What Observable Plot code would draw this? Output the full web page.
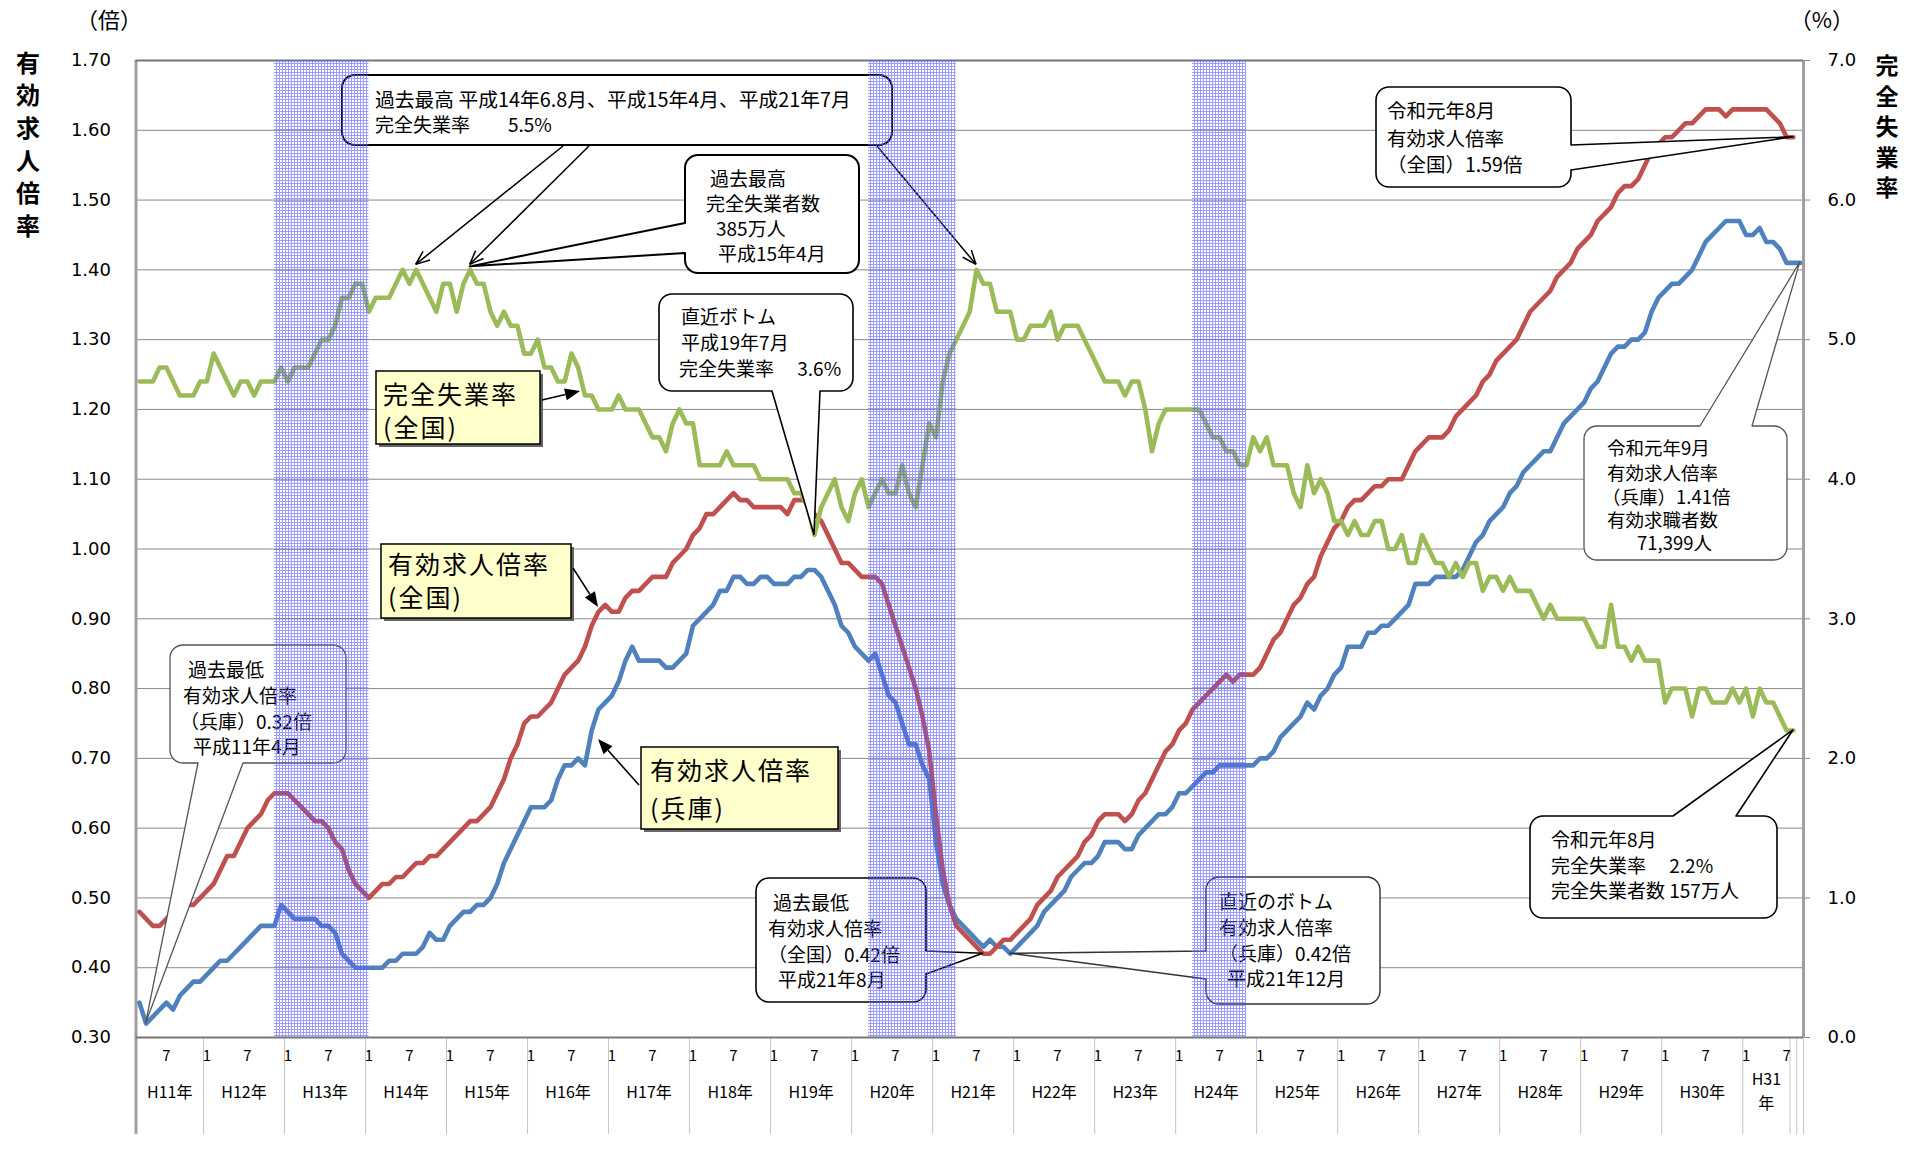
<!DOCTYPE html>
<html><head><meta charset="utf-8">
<script src="https://cdn.jsdelivr.net/npm/d3@7"></script>
<script src="https://cdn.jsdelivr.net/npm/@observablehq/plot@0.6"></script>
<style>
html,body{margin:0;padding:0;background:#fff;overflow:hidden;}
#chart svg{display:block;max-width:none!important;}
</style></head><body><div id="chart"></div>
<script>
// ---------------- DATA ----------------
// first month of the series: 平成11年(1999) 3月 ; one value per month
const startYear = 1999, startMonth = 3;

// 有効求人倍率（全国） Mar 1999 – Aug 2019
const jobRatioNational = [
  0.48,0.47,0.46,0.46,0.47,0.48,0.49,0.49,0.49,0.50,
  0.51,0.52,0.54,0.56,0.56,0.58,0.60,0.61,0.62,0.64,0.65,0.65,
  0.65,0.64,0.63,0.62,0.61,0.61,0.60,0.58,0.57,0.54,0.52,0.51,
  0.50,0.51,0.52,0.52,0.53,0.53,0.54,0.55,0.55,0.56,0.56,0.57,
  0.58,0.59,0.60,0.61,0.61,0.62,0.63,0.65,0.67,0.70,0.72,0.75,
  0.76,0.76,0.77,0.78,0.80,0.82,0.83,0.84,0.86,0.89,0.91,0.92,
  0.91,0.91,0.93,0.94,0.94,0.95,0.96,0.96,0.96,0.98,0.99,1.00,
  1.02,1.03,1.05,1.05,1.06,1.07,1.08,1.07,1.07,1.06,1.06,1.06,
  1.06,1.06,1.05,1.07,1.07,1.07,1.05,1.04,1.02,1.00,0.98,0.98,
  0.97,0.96,0.96,0.96,0.95,0.92,0.89,0.86,0.83,0.80,0.76,0.71,
  0.62,0.54,0.49,0.46,0.45,0.44,0.43,0.42,0.42,0.43,0.44,0.44,
  0.45,0.46,0.47,0.49,0.50,0.51,0.53,0.54,0.55,0.56,0.58,0.59,
  0.61,0.62,0.62,0.62,0.61,0.62,0.64,0.65,0.67,0.69,0.71,0.72,
  0.74,0.75,0.77,0.78,0.79,0.80,0.81,0.82,0.81,0.82,0.82,0.82,
  0.83,0.85,0.87,0.88,0.90,0.92,0.93,0.95,0.96,0.99,1.01,1.03,
  1.04,1.06,1.07,1.07,1.08,1.09,1.09,1.10,1.10,1.10,1.12,1.14,
  1.15,1.16,1.16,1.16,1.17,1.19,1.20,1.21,1.22,1.24,1.25,1.27,
  1.28,1.29,1.30,1.32,1.34,1.35,1.36,1.37,1.39,1.40,1.41,1.43,
  1.44,1.45,1.47,1.48,1.49,1.51,1.52,1.52,1.53,1.55,1.57,1.58,
  1.59,1.59,1.60,1.61,1.61,1.62,1.63,1.63,1.63,1.62,1.63,1.63,
  1.63,1.63,1.63,1.63,1.62,1.61,1.59,1.59
];

// 有効求人倍率（兵庫） Mar 1999 – Sep 2019
const jobRatioHyogo = [
  0.35,0.32,0.33,0.34,0.35,0.34,0.36,0.37,0.38,0.38,
  0.39,0.40,0.41,0.41,0.42,0.43,0.44,0.45,0.46,0.46,0.46,0.49,
  0.48,0.47,0.47,0.47,0.47,0.46,0.46,0.45,0.42,0.41,0.40,0.40,
  0.40,0.40,0.40,0.41,0.41,0.42,0.42,0.42,0.43,0.45,0.44,0.44,
  0.46,0.47,0.48,0.48,0.49,0.49,0.50,0.52,0.55,0.57,0.59,0.61,
  0.63,0.63,0.63,0.64,0.67,0.69,0.69,0.70,0.69,0.74,0.77,0.78,
  0.79,0.81,0.84,0.86,0.84,0.84,0.84,0.84,0.83,0.83,0.84,0.85,
  0.89,0.90,0.91,0.92,0.94,0.94,0.96,0.96,0.95,0.95,0.96,0.96,
  0.95,0.95,0.95,0.96,0.96,0.97,0.97,0.96,0.94,0.92,0.89,0.88,
  0.86,0.85,0.84,0.85,0.82,0.79,0.78,0.75,0.72,0.72,0.69,0.67,
  0.58,0.52,0.49,0.47,0.46,0.45,0.44,0.43,0.44,0.43,0.43,0.42,
  0.43,0.44,0.45,0.46,0.48,0.49,0.50,0.51,0.53,0.54,0.55,0.55,
  0.56,0.58,0.58,0.58,0.57,0.57,0.59,0.60,0.61,0.62,0.62,0.63,
  0.65,0.65,0.66,0.67,0.68,0.68,0.69,0.69,0.69,0.69,0.69,0.69,
  0.70,0.70,0.71,0.73,0.74,0.75,0.76,0.78,0.77,0.79,0.80,0.82,
  0.83,0.86,0.86,0.86,0.88,0.88,0.89,0.89,0.90,0.91,0.92,0.95,
  0.95,0.95,0.96,0.96,0.96,0.96,0.97,0.99,1.01,1.02,1.04,1.05,
  1.06,1.08,1.09,1.11,1.12,1.13,1.14,1.14,1.16,1.18,1.19,1.20,
  1.21,1.23,1.24,1.26,1.28,1.29,1.29,1.30,1.30,1.31,1.34,1.36,
  1.37,1.38,1.38,1.39,1.40,1.42,1.44,1.45,1.46,1.47,1.47,1.47,
  1.45,1.45,1.46,1.44,1.44,1.43,1.41,1.41,1.41
];

// 完全失業率（全国, %） Mar 1999 – Aug 2019
const unemploymentRate = [
  4.7,4.7,4.7,4.8,4.8,4.7,4.6,4.6,4.6,4.7,
  4.7,4.9,4.8,4.7,4.6,4.7,4.7,4.6,4.7,4.7,4.7,4.8,
  4.7,4.8,4.8,4.8,4.9,5.0,5.0,5.1,5.3,5.3,5.4,5.4,
  5.2,5.3,5.3,5.3,5.4,5.5,5.4,5.5,5.4,5.3,5.2,5.4,
  5.4,5.2,5.4,5.5,5.4,5.4,5.2,5.1,5.2,5.1,5.1,4.9,
  4.9,5.0,4.8,4.8,4.7,4.7,4.9,4.8,4.6,4.6,4.5,4.5,
  4.5,4.6,4.5,4.5,4.5,4.4,4.3,4.3,4.2,4.4,4.5,4.4,
  4.4,4.1,4.1,4.1,4.1,4.2,4.1,4.1,4.1,4.1,4.0,4.0,
  4.0,4.0,4.0,3.9,3.9,3.8,3.6,3.8,3.9,4.0,3.8,3.7,
  3.9,4.0,3.8,3.9,4.0,3.9,3.9,4.1,3.9,3.8,4.1,4.4,
  4.3,4.7,4.9,5.0,5.1,5.2,5.5,5.4,5.4,5.2,5.2,5.2,
  5.0,5.0,5.1,5.1,5.1,5.2,5.0,5.1,5.1,5.1,5.0,4.9,
  4.8,4.7,4.7,4.7,4.6,4.7,4.7,4.5,4.2,4.4,4.5,4.5,
  4.5,4.5,4.5,4.5,4.4,4.3,4.3,4.2,4.2,4.1,4.1,4.3,
  4.2,4.3,4.1,4.1,4.1,3.9,3.8,4.1,3.9,4.0,3.9,3.7,
  3.7,3.6,3.7,3.6,3.6,3.7,3.7,3.5,3.5,3.6,3.4,3.4,
  3.6,3.5,3.4,3.4,3.3,3.4,3.3,3.4,3.4,3.2,3.3,3.3,
  3.2,3.3,3.2,3.2,3.2,3.1,3.0,3.1,3.0,3.0,3.0,3.0,
  3.0,2.9,2.8,2.8,3.1,2.8,2.8,2.7,2.8,2.7,2.7,2.7,
  2.4,2.5,2.5,2.5,2.3,2.5,2.5,2.4,2.4,2.4,2.5,2.4,
  2.5,2.3,2.5,2.4,2.4,2.3,2.2,2.2
];

// 景気後退期（網掛け）
const recessions = [["2000-11","2002-01"],["2008-03","2009-04"],["2012-03","2012-11"]];

// axes
const leftTicks = [0.30,0.40,0.50,0.60,0.70,0.80,0.90,1.00,1.10,1.20,1.30,1.40,1.50,1.60,1.70];
const rightTicks = [0,1,2,3,4,5,6,7];
const monthTickLabels = [[1,"1"],[7,"7"]];
const yearLabels = ["H11年","H12年","H13年","H14年","H15年","H16年","H17年","H18年","H19年","H20年",
  "H21年","H22年","H23年","H24年","H25年","H26年","H27年","H28年","H29年","H30年","H31\n年"];

// annotation texts
const noteRecordUnemp = ["過去最高 平成14年6.8月、平成15年4月、平成21年7月", "完全失業率　　5.5%"];
const noteRecordJobless = ["過去最高", "完全失業者数", "385万人", "平成15年4月"];
const noteBottom2007 = ["直近ボトム", "平成19年7月", "完全失業率　 3.6%"];
const noteNational201908 = ["令和元年8月", "有効求人倍率", "（全国）1.59倍"];
const noteHyogo201909 = ["令和元年9月", "有効求人倍率", "（兵庫）1.41倍", "有効求職者数", "71,399人"];
const noteUnemp201908 = ["令和元年8月", "完全失業率　 2.2%", "完全失業者数 157万人"];
const noteHyogoLow1999 = ["過去最低", "有効求人倍率", "（兵庫）0.32倍", "平成11年4月"];
const noteNationalLow2009 = ["過去最低", "有効求人倍率", "（全国）0.42倍", "平成21年8月"];
const noteHyogoBottom2009 = ["直近のボトム", "有効求人倍率", "（兵庫）0.42倍", "平成21年12月"];
const seriesLabelUnemp = ["完全失業率", "(全国)"];
const seriesLabelNational = ["有効求人倍率", "(全国)"];
const seriesLabelHyogo = ["有効求人倍率", "(兵庫)"];

// ---------------- HELPERS ----------------
const monthIndex = s => { const [y, m] = s.split("-").map(Number); return (y - startYear) * 12 + (m - startMonth); };
const toLeft = u => 0.30 + u / 5;            // % on right axis -> left-axis units
const nMonths = 247;
const W = 1915, H = 1149;
const frame = {left: 135.5, right: 1803, top: 60, bottom: 1037};
const unitPx = (frame.bottom - frame.top) / 1.4;
const pxToY = p => 1.70 - (p - frame.top) / unitPx;
const tableBottom = pxToY(1134);

const red = "#C0504D", blue = "#4F81BD", green = "#9BBB59";
const jp = "'Noto Sans CJK JP','Noto Sans',sans-serif";

const rows = (arr, f = v => v) => arr.map((v, i) => ({i, v: f(v)}));
const national = rows(jobRatioNational), hyogo = rows(jobRatioHyogo), unemp = rows(unemploymentRate, toLeft);

const monthTicks = [];
for (let i = 0; i < nMonths; i++) {
  const m = ((startMonth - 1 + i) % 12) + 1;
  for (const [mm, lab] of monthTickLabels) if (m === mm) monthTicks.push({i, label: lab});
}
const yearCols = yearLabels.map((label, k) => {
  const a = k === 0 ? 0 : monthIndex(`${startYear + k}-01`);
  const b = k === yearLabels.length - 1 ? monthIndex(`${startYear + k}-08`) : monthIndex(`${startYear + k + 1}-01`);
  return {label, c: (a + b) / 2, a, b};
});
const separators = yearCols.slice(1).map(d => d.a).concat([yearCols[yearCols.length - 1].b, nMonths - 1, nMonths]);
const gridVals = leftTicks.slice(1, -1);

const lineOpts = {x: d => d.i + 0.5, y: "v", strokeWidth: 4.6, strokeLinejoin: "round", strokeLinecap: "round"};

const chart = Plot.plot({
  width: W, height: H,
  marginLeft: frame.left, marginRight: W - frame.right, marginTop: frame.top, marginBottom: H - frame.bottom,
  x: {domain: [0, nMonths], axis: null},
  y: {domain: [0.30, 1.70], axis: null},
  style: {fontFamily: jp, background: "white", color: "#000"},
  marks: [
    Plot.ruleY(gridVals, {stroke: "#8a8a8a", strokeWidth: 1}),
    Plot.ruleX(separators, {y1: 0.30, y2: tableBottom, stroke: "#c4c4c4", strokeWidth: 1}),
    Plot.ruleX([0], {y1: tableBottom, y2: 1.70, stroke: "#a0a0a0", strokeWidth: 3}),
    Plot.ruleX([nMonths], {y1: 0.30, y2: 1.70, stroke: "#a0a0a0", strokeWidth: 3}),
    Plot.ruleY([1.70], {stroke: "#777", strokeWidth: 2}),
    Plot.ruleY([0.30], {stroke: "#777", strokeWidth: 2}),
    Plot.line(hyogo, {...lineOpts, stroke: blue}),
    Plot.line(national, {...lineOpts, stroke: red}),
    Plot.line(unemp, {...lineOpts, stroke: green}),
    Plot.axisY(leftTicks, {anchor: "left", tickSize: 0, tickPadding: 25, tickFormat: d => d.toFixed(2),
      fontSize: 18, fontFamily: "DejaVu Sans", fill: "#000", label: null}),
    Plot.axisY(rightTicks.map(toLeft), {anchor: "right", tickSize: 6, tickPadding: 18, stroke: "#888",
      tickFormat: d => ((d - 0.30) * 5).toFixed(1), fontSize: 18, fontFamily: "DejaVu Sans", fill: "#000", label: null}),
    Plot.text(monthTicks, {x: d => d.i + 0.5, text: "label", frameAnchor: "bottom", dy: 23, fontSize: 15, fill: "#000"}),
    Plot.text(yearCols.slice(0, -1), {x: "c", text: "label", frameAnchor: "bottom", dy: 60, fontSize: 16, fill: "#000"}),
    Plot.text(yearCols.slice(-1), {x: "c", text: "label", frameAnchor: "bottom", dy: 71, lineHeight: 1.45, fontSize: 16, fill: "#000"})
  ]
});
document.getElementById("chart").appendChild(chart);

// ---------------- ANNOTATIONS (through the plot's scales) ----------------
const sx = chart.scale("x"), sy = chart.scale("y");
const X = v => sx.apply(v), Y = v => sy.apply(v);
const at = (i, v, dy = 0) => [X(i + 0.5), Y(v) + dy];
const svg = d3.select(chart);

const defs = svg.insert("defs", ":first-child");
const pat = defs.append("pattern").attr("id", "dots").attr("width", 3).attr("height", 3).attr("patternUnits", "userSpaceOnUse");
pat.append("rect").attr("width", 3).attr("height", 1).attr("fill", "#5a5aff");
pat.append("rect").attr("y", 1).attr("width", 1).attr("height", 2).attr("fill", "#5a5aff");

const g = svg.append("g").attr("font-family", jp).attr("fill", "#000").attr("text-anchor", "start");

function calloutPath(x, y, w, h, r, wd) {
  const p = d3.path();
  p.moveTo(x + r, y);
  if (wd && wd.side === "top") { p.lineTo(wd.a, y); p.lineTo(wd.tx, wd.ty); p.lineTo(wd.b, y); }
  p.lineTo(x + w - r, y); p.arcTo(x + w, y, x + w, y + r, r);
  if (wd && wd.side === "right") { p.lineTo(x + w, wd.a); p.lineTo(wd.tx, wd.ty); p.lineTo(x + w, wd.b); }
  p.lineTo(x + w, y + h - r); p.arcTo(x + w, y + h, x + w - r, y + h, r);
  if (wd && wd.side === "bottom") { p.lineTo(wd.b, y + h); p.lineTo(wd.tx, wd.ty); p.lineTo(wd.a, y + h); }
  p.lineTo(x + r, y + h); p.arcTo(x, y + h, x, y + h - r, r);
  if (wd && wd.side === "left") { p.lineTo(x, wd.b); p.lineTo(wd.tx, wd.ty); p.lineTo(x, wd.a); }
  p.lineTo(x, y + r); p.arcTo(x, y, x + r, y, r);
  p.closePath();
  return p.toString();
}
function texts(lines, xs, ys, size = 19, extra = {}) {
  lines.forEach((t, k) => {
    const el = g.append("text").attr("x", Array.isArray(xs) ? xs[k] : xs).attr("y", ys[k])
      .attr("text-anchor", "start").attr("dominant-baseline", "central")
      .attr("font-size", Array.isArray(size) ? size[k] : size)
      .style("white-space", "pre").text(t);
    for (const [a, v] of Object.entries(extra)) el.attr(a, v);
  });
}
function callout({box, r = 13, stroke = "#000", sw = 1.6, wedge, lines, tx, ty, size}) {
  let wd = null;
  if (wedge) { const [px, py] = at(wedge.i, wedge.v, wedge.dy || 0); wd = {...wedge, tx: px, ty: py}; }
  g.append("path").attr("d", calloutPath(box[0], box[1], box[2], box[3], r, wd))
    .attr("fill", "#fff").attr("stroke", stroke).attr("stroke-width", sw).attr("stroke-linejoin", "round");
  texts(lines, tx, ty, size || 19);
}
function openArrow(x1, y1, x2, y2) {
  g.append("line").attr("x1", x1).attr("y1", y1).attr("x2", x2).attr("y2", y2).attr("stroke", "#000").attr("stroke-width", 1.5);
  const a = Math.atan2(y2 - y1, x2 - x1), L = 15, s = 0.38;
  for (const d of [-s, s]) g.append("line").attr("x1", x2).attr("y1", y2)
    .attr("x2", x2 - L * Math.cos(a + d)).attr("y2", y2 - L * Math.sin(a + d)).attr("stroke", "#000").attr("stroke-width", 1.5);
}
function filledArrow(x1, y1, x2, y2) {
  const a = Math.atan2(y2 - y1, x2 - x1), L = 15, hw = 6;
  const bx = x2 - L * Math.cos(a), by = y2 - L * Math.sin(a);
  g.append("line").attr("x1", x1).attr("y1", y1).attr("x2", bx).attr("y2", by).attr("stroke", "#000").attr("stroke-width", 1.6);
  g.append("path").attr("d", `M${x2},${y2}L${bx + hw * Math.sin(a)},${by - hw * Math.cos(a)}L${bx - hw * Math.sin(a)},${by + hw * Math.cos(a)}Z`).attr("fill", "#000");
}
function seriesLabel(lines, box, tx, ty) {
  g.append("rect").attr("x", box[0] + 3).attr("y", box[1] + 3).attr("width", box[2]).attr("height", box[3]).attr("fill", "#666");
  g.append("rect").attr("x", box[0]).attr("y", box[1]).attr("width", box[2]).attr("height", box[3])
    .attr("fill", "#FFFFCC").attr("stroke", "#000").attr("stroke-width", 1.5);
  texts(lines, tx, ty, 25, {"letter-spacing": 2});
}

const iOf = s => monthIndex(s);

callout({box: [342, 75, 550, 70], sw: 2, lines: noteRecordUnemp, tx: 375, ty: [98, 123], size: [19.8, 19]});
openArrow(563, 146, ...at(iOf("2002-08"), toLeft(5.5), -5));
openArrow(589, 146, ...at(iOf("2003-04"), toLeft(5.5), -5));
openArrow(877, 146, ...at(iOf("2009-07"), toLeft(5.5), -5));
callout({box: [685, 155, 174, 118], sw: 2, wedge: {side: "left", a: 223, b: 253, i: iOf("2003-04"), v: toLeft(5.5), dy: -3},
  lines: noteRecordJobless, tx: [710, 706, 716, 718], ty: [177, 202, 227, 252]});
callout({box: [659, 294, 194, 97], wedge: {side: "bottom", a: 772, b: 820, i: iOf("2007-07"), v: toLeft(3.6)},
  lines: noteBottom2007, tx: [681, 681, 679], ty: [315, 341, 367]});
callout({box: [1376, 87, 195, 100], wedge: {side: "right", a: 145, b: 170, i: iOf("2019-08"), v: 1.59},
  lines: noteNational201908, tx: 1387, ty: [109, 137, 163], size: 19.5});
callout({box: [1584, 426, 203, 134], stroke: "#555", sw: 1.3, wedge: {side: "top", a: 1700, b: 1752, i: iOf("2019-09"), v: 1.41},
  lines: noteHyogo201909, tx: [1607, 1607, 1602, 1607, 1637], ty: [447, 472, 496, 519, 542], size: 18.5});
callout({box: [1530, 816, 247, 102], wedge: {side: "top", a: 1673, b: 1736, i: iOf("2019-08"), v: toLeft(2.2)},
  lines: noteUnemp201908, tx: 1551, ty: [838, 864, 889]});
callout({box: [170, 645, 176, 118], stroke: "#555", sw: 1.3, wedge: {side: "bottom", a: 198, b: 243, i: iOf("1999-04"), v: 0.32},
  lines: noteHyogoLow1999, tx: [188, 183, 180, 193], ty: [668, 694, 720, 745]});
callout({box: [756, 878, 170, 124], wedge: {side: "right", a: 951, b: 974, i: iOf("2009-08"), v: 0.42},
  lines: noteNationalLow2009, tx: [773, 768, 768, 778], ty: [901, 927, 953, 978]});
callout({box: [1206, 877, 174, 127], stroke: "#333", sw: 1.4, wedge: {side: "left", a: 951, b: 979, i: iOf("2009-12"), v: 0.42},
  lines: noteHyogoBottom2009, tx: [1219, 1219, 1219, 1227], ty: [900, 926, 952, 977]});

seriesLabel(seriesLabelUnemp, [376, 371, 164, 73], 383, [393, 426]);
filledArrow(542, 400, 580, 391);
seriesLabel(seriesLabelNational, [381, 544, 190, 74], 388, [563, 596]);
filledArrow(573, 568, 598, 607);
seriesLabel(seriesLabelHyogo, [641, 747, 197, 82], 650, [769, 807]);
filledArrow(639, 785, 598, 739);

// axis titles
const t2 = (x, y, s, size, weight) => g.append("text").attr("x", x).attr("y", y).attr("text-anchor", "middle")
  .attr("dominant-baseline", "central").attr("font-size", size).attr("font-weight", weight || "normal").text(s);
t2(109, 18, "（倍）", 22);
t2(1822, 18, "（%）", 22);
[..."有効求人倍率"].forEach((c, k) => t2(28, 61 + k * 32.7, c, 24, "bold"));
[..."完全失業率"].forEach((c, k) => t2(1887, 64 + k * 30.5, c, 23, "bold"));

// recession shading drawn on top (as in the original)
svg.append("g").attr("opacity", 0.6).selectAll("rect").data(recessions).join("rect")
  .attr("x", d => X(monthIndex(d[0]) + 0.5)).attr("width", d => X(monthIndex(d[1]) + 0.5) - X(monthIndex(d[0]) + 0.5))
  .attr("y", Y(1.70)).attr("height", Y(0.30) - Y(1.70)).attr("fill", "url(#dots)");
</script></body></html>
